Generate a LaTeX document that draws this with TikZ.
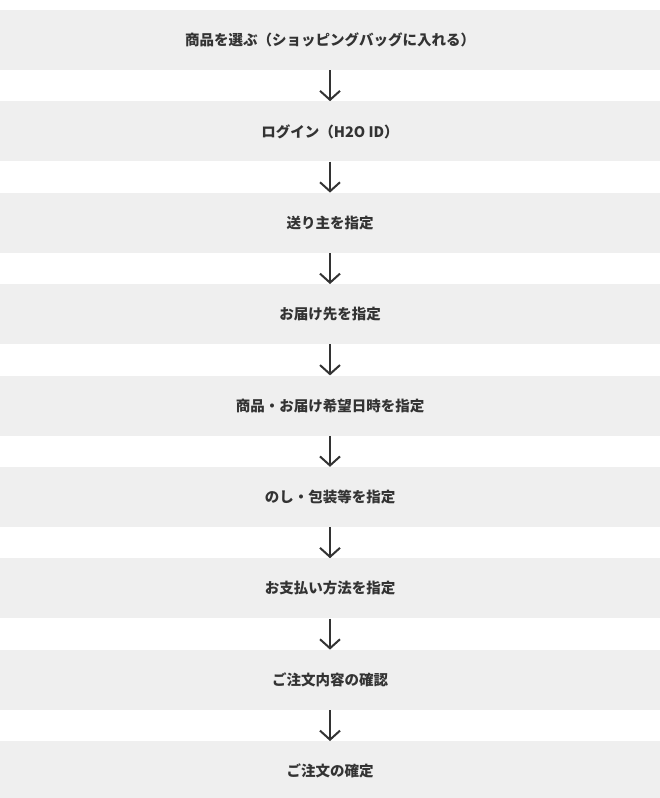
\documentclass[tikz,border=0pt]{standalone}
\usepackage{fontspec}
\setmainfont{Noto Sans CJK JP}
\usepackage{tikz}
\usetikzlibrary{arrows.meta,positioning}
\usepackage{xcolor}
\definecolor{StepGray}{RGB}{239,239,239}
\definecolor{InkGray}{RGB}{51,51,51}

\begin{document}
\begin{tikzpicture}[x=1pt, y=-1pt,
  stepbox/.style={fill=StepGray, minimum width=660pt, minimum height=60pt, inner sep=0pt,
    font=\fontsize{14.5pt}{16pt}\selectfont\bfseries, text=InkGray},
  flow/.style={InkGray, line width=2pt, -{Straight Barb[length=9pt, width=20pt]}}]
\useasboundingbox (0,0) rectangle (660,798);
% Order steps
\node[stepbox] (pick) at (330,40) {商品を選ぶ（ショッピングバッグに入れる）};
\node[stepbox, below=31pt of pick] (login) {ログイン（H2O ID）};
\node[stepbox, below=31pt of login] (sender) {送り主を指定};
\node[stepbox, below=31pt of sender] (dest) {お届け先を指定};
\node[stepbox, below=31pt of dest] (date) {商品・お届け希望日時を指定};
\node[stepbox, below=31pt of date] (wrap) {のし・包装等を指定};
\node[stepbox, below=31pt of wrap] (pay) {お支払い方法を指定};
\node[stepbox, below=31pt of pay] (check) {ご注文内容の確認};
\node[stepbox, below=31pt of check] (fix) {ご注文の確定};
% Arrows
\draw[flow] (pick) -- (login);
\draw[flow] (login) -- (sender);
\draw[flow] (sender) -- (dest);
\draw[flow] (dest) -- (date);
\draw[flow] (date) -- (wrap);
\draw[flow] (wrap) -- (pay);
\draw[flow] (pay) -- (check);
\draw[flow] (check) -- (fix);
\end{tikzpicture}
\end{document}
